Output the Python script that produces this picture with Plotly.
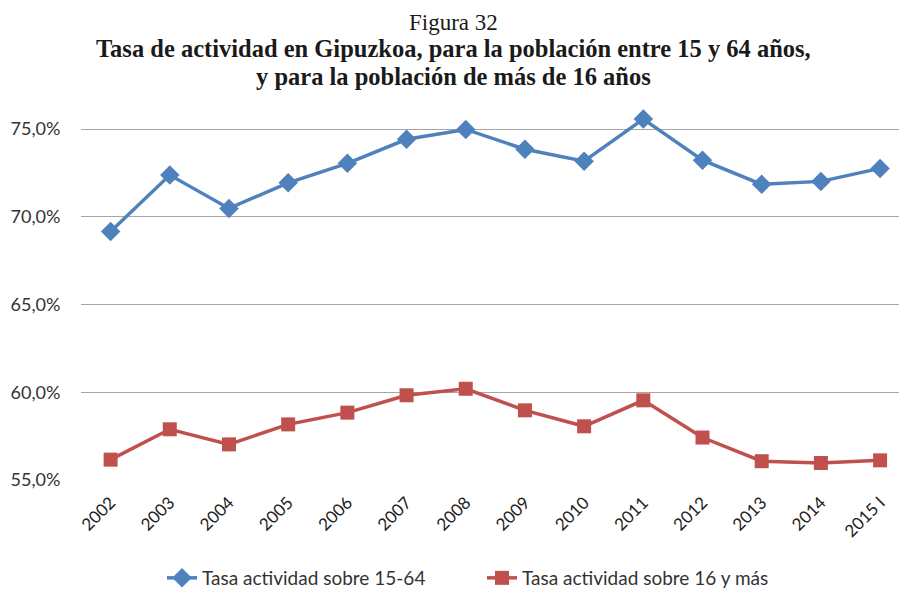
import plotly.graph_objects as go

years = ["2002", "2003", "2004", "2005", "2006", "2007", "2008", "2009", "2010", "2011", "2012", "2013", "2014", "2015 I"]
tasa_15_64 = [69.16, 72.38, 70.48, 71.94, 73.05, 74.42, 74.98, 73.85, 73.17, 75.57, 73.23, 71.85, 72.02, 72.76]
tasa_16_mas = [56.16, 57.89, 57.03, 58.17, 58.84, 59.83, 60.2, 58.97, 58.06, 59.54, 57.42, 56.07, 55.97, 56.12]
ytick_vals = [55, 60, 65, 70, 75]
ytick_text = ["55,0%", "60,0%", "65,0%", "70,0%", "75,0%"]

# the page body adds an 8px offset; layout numbers below compensate for it
OFF = 8

fig = go.Figure()
fig.add_trace(go.Scatter(
    x=list(range(len(years))), y=tasa_15_64, mode="lines+markers",
    name="Tasa actividad sobre 15-64",
    line=dict(color="#4F81BD", width=3.5),
    marker=dict(symbol="diamond", size=15, color="#4F81BD"),
))
fig.add_trace(go.Scatter(
    x=list(range(len(years))), y=tasa_16_mas, mode="lines+markers",
    name="Tasa actividad sobre 16 y más",
    line=dict(color="#C0504D", width=3.5),
    marker=dict(symbol="square", size=14, color="#C0504D"),
))

fig.update_layout(
    width=907, height=595,
    margin=dict(l=81 - OFF, r=0, t=94 - OFF, b=115 + OFF, autoexpand=False),
    paper_bgcolor="white", plot_bgcolor="white",
    showlegend=True,
    legend=dict(orientation="h", x=(162 - OFF) / 907, xanchor="left", xref="container",
                y=(595 - (578 - OFF)) / 595, yanchor="middle", yref="container",
                font=dict(family="Lato", size=19, color="#333333"),
                entrywidth=275, entrywidthmode="pixels", tracegroupgap=0),
    font=dict(family="Lato", color="#333333"),
)
fig.update_xaxes(
    range=[-0.5, 13.59], automargin=False,
    tickvals=list(range(len(years))), ticktext=years,
    tickangle=-45, tickfont=dict(family="Lato", size=17, color="#222222"),
    showgrid=False, zeroline=False, showline=False,
    ticks="outside", ticklen=5, tickcolor="rgba(0,0,0,0)",
)
fig.update_yaxes(
    range=[55, 77], automargin=False,
    tickvals=ytick_vals, ticktext=ytick_text,
    tickfont=dict(family="Lato", size=18, color="#333333"),
    showgrid=True, gridcolor="#A6A6A6", gridwidth=1,
    zeroline=False, showline=False,
    ticks="outside", ticklen=16, tickcolor="rgba(0,0,0,0)",
)

title_font = dict(family="Liberation Serif", size=24.5, color="#1a1a1a")
plot_w = 907 - (81 - OFF)
cx = (453.5 - 81) / plot_w
fig.add_annotation(text="Figura 32", xref="paper", yref="paper",
                   x=cx, y=0, yshift=480 - 22, showarrow=False,
                   font=dict(family="Liberation Serif", size=23, color="#1a1a1a"),
                   xanchor="center", yanchor="middle")
fig.add_annotation(text="<b>Tasa de actividad en Gipuzkoa, para la población entre 15 y 64 años,</b>",
                   xref="paper", yref="paper",
                   x=cx, y=0, yshift=480 - 48, showarrow=False,
                   font=title_font, xanchor="center", yanchor="middle")
fig.add_annotation(text="<b>y para la población de más de 16 años</b>",
                   xref="paper", yref="paper",
                   x=cx, y=0, yshift=480 - 76, showarrow=False,
                   font=title_font, xanchor="center", yanchor="middle")

fig.write_html("out.html")
